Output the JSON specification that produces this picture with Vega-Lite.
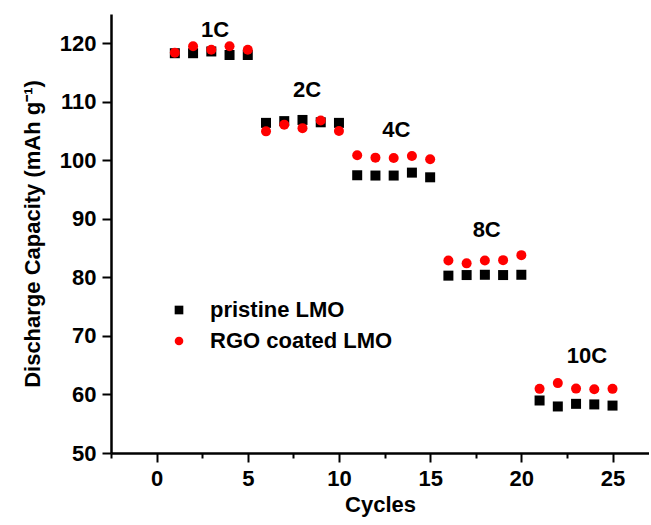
{
  "$schema": "https://vega.github.io/schema/vega-lite/v6.json",
  "width": 538,
  "height": 439,
  "autosize": {"type": "none"},
  "padding": {"left": 111, "top": 14, "right": 0, "bottom": 72},
  "background": "white",
  "config": {
    "view": {"stroke": null},
    "font": "Liberation Sans",
    "axis": {
      "domainColor": "#000000",
      "domainWidth": 2.5,
      "tickColor": "#000000",
      "tickWidth": 2,
      "labelFont": "Liberation Sans",
      "labelFontWeight": "bold",
      "labelFontSize": 22,
      "labelColor": "#000000",
      "titleFont": "Liberation Sans",
      "titleFontWeight": "bold",
      "titleFontSize": 22,
      "titleColor": "#000000",
      "grid": false
    }
  },
  "datasets": {
    "points": [
      {"cycle": 1, "capacity": 118.3, "series": "pristine LMO"},
      {"cycle": 2, "capacity": 118.3, "series": "pristine LMO"},
      {"cycle": 3, "capacity": 118.6, "series": "pristine LMO"},
      {"cycle": 4, "capacity": 118.0, "series": "pristine LMO"},
      {"cycle": 5, "capacity": 118.0, "series": "pristine LMO"},
      {"cycle": 6, "capacity": 106.4, "series": "pristine LMO"},
      {"cycle": 7, "capacity": 106.7, "series": "pristine LMO"},
      {"cycle": 8, "capacity": 106.9, "series": "pristine LMO"},
      {"cycle": 9, "capacity": 106.5, "series": "pristine LMO"},
      {"cycle": 10, "capacity": 106.4, "series": "pristine LMO"},
      {"cycle": 11, "capacity": 97.45, "series": "pristine LMO"},
      {"cycle": 12, "capacity": 97.4, "series": "pristine LMO"},
      {"cycle": 13, "capacity": 97.4, "series": "pristine LMO"},
      {"cycle": 14, "capacity": 97.9, "series": "pristine LMO"},
      {"cycle": 15, "capacity": 97.1, "series": "pristine LMO"},
      {"cycle": 16, "capacity": 80.3, "series": "pristine LMO"},
      {"cycle": 17, "capacity": 80.4, "series": "pristine LMO"},
      {"cycle": 18, "capacity": 80.45, "series": "pristine LMO"},
      {"cycle": 19, "capacity": 80.4, "series": "pristine LMO"},
      {"cycle": 20, "capacity": 80.45, "series": "pristine LMO"},
      {"cycle": 21, "capacity": 58.97, "series": "pristine LMO"},
      {"cycle": 22, "capacity": 57.95, "series": "pristine LMO"},
      {"cycle": 23, "capacity": 58.4, "series": "pristine LMO"},
      {"cycle": 24, "capacity": 58.3, "series": "pristine LMO"},
      {"cycle": 25, "capacity": 58.1, "series": "pristine LMO"},
      {"cycle": 1, "capacity": 118.4, "series": "RGO coated LMO"},
      {"cycle": 2, "capacity": 119.5, "series": "RGO coated LMO"},
      {"cycle": 3, "capacity": 118.9, "series": "RGO coated LMO"},
      {"cycle": 4, "capacity": 119.5, "series": "RGO coated LMO"},
      {"cycle": 5, "capacity": 118.9, "series": "RGO coated LMO"},
      {"cycle": 6, "capacity": 104.95, "series": "RGO coated LMO"},
      {"cycle": 7, "capacity": 106.1, "series": "RGO coated LMO"},
      {"cycle": 8, "capacity": 105.5, "series": "RGO coated LMO"},
      {"cycle": 9, "capacity": 106.8, "series": "RGO coated LMO"},
      {"cycle": 10, "capacity": 105.0, "series": "RGO coated LMO"},
      {"cycle": 11, "capacity": 100.86, "series": "RGO coated LMO"},
      {"cycle": 12, "capacity": 100.46, "series": "RGO coated LMO"},
      {"cycle": 13, "capacity": 100.4, "series": "RGO coated LMO"},
      {"cycle": 14, "capacity": 100.74, "series": "RGO coated LMO"},
      {"cycle": 15, "capacity": 100.2, "series": "RGO coated LMO"},
      {"cycle": 16, "capacity": 82.9, "series": "RGO coated LMO"},
      {"cycle": 17, "capacity": 82.4, "series": "RGO coated LMO"},
      {"cycle": 18, "capacity": 82.9, "series": "RGO coated LMO"},
      {"cycle": 19, "capacity": 82.95, "series": "RGO coated LMO"},
      {"cycle": 20, "capacity": 83.8, "series": "RGO coated LMO"},
      {"cycle": 21, "capacity": 60.96, "series": "RGO coated LMO"},
      {"cycle": 22, "capacity": 61.94, "series": "RGO coated LMO"},
      {"cycle": 23, "capacity": 61.0, "series": "RGO coated LMO"},
      {"cycle": 24, "capacity": 60.9, "series": "RGO coated LMO"},
      {"cycle": 25, "capacity": 60.96, "series": "RGO coated LMO"}
    ],
    "rates": [
      {"cycle": 3.2, "capacity": 122.2, "label": "1C"},
      {"cycle": 8.25, "capacity": 112.06, "label": "2C"},
      {"cycle": 13.15, "capacity": 105.1, "label": "4C"},
      {"cycle": 18.1, "capacity": 88.1, "label": "8C"},
      {"cycle": 23.6, "capacity": 66.6, "label": "10C"}
    ]
  },
  "layer": [
    {
      "data": {"name": "points"},
      "mark": {"type": "point", "filled": true, "opacity": 1, "size": 100},
      "encoding": {
        "x": {
          "field": "cycle",
          "type": "quantitative",
          "scale": {"domain": [-2.5, 27], "nice": false, "zero": false},
          "axis": {
            "title": "Cycles",
            "values": [-2.5, 0, 2.5, 5, 7.5, 10, 12.5, 15, 17.5, 20, 22.5, 25],
            "labelExpr": "datum.value % 5 === 0 ? datum.label : ''",
            "tickSize": {"condition": {"test": "datum.value % 5 !== 0", "value": 5}, "value": 9},
            "labelPadding": 6,
            "titlePadding": 5
          }
        },
        "y": {
          "field": "capacity",
          "type": "quantitative",
          "scale": {"domain": [50, 125], "nice": false, "zero": false},
          "axis": {
            "title": "Discharge Capacity (mAh g⁻¹)",
            "values": [50, 55, 60, 65, 70, 75, 80, 85, 90, 95, 100, 105, 110, 115, 120],
            "labelExpr": "datum.value % 10 === 0 ? datum.label : ''",
            "tickSize": {"condition": {"test": "datum.value % 10 !== 0", "value": 5}, "value": 9},
            "labelPadding": 6,
            "titlePadding": 15
          }
        },
        "shape": {
          "field": "series",
          "type": "nominal",
          "scale": {"domain": ["pristine LMO", "RGO coated LMO"], "range": ["square", "circle"]},
          "legend": {
            "title": null,
            "orient": "none",
            "legendX": 57,
            "legendY": 285,
            "labelFont": "Liberation Sans",
            "labelFontWeight": "bold",
            "labelFontSize": 22,
            "labelColor": "#000000",
            "labelLimit": 0,
            "labelOffset": 20,
            "symbolSize": 75,
            "rowPadding": 9,
            "symbolStrokeWidth": 0
          }
        },
        "color": {
          "field": "series",
          "type": "nominal",
          "scale": {"domain": ["pristine LMO", "RGO coated LMO"], "range": ["#000000", "#ff0000"]},
          "legend": {
            "title": null,
            "orient": "none",
            "legendX": 57,
            "legendY": 285,
            "labelFont": "Liberation Sans",
            "labelFontWeight": "bold",
            "labelFontSize": 22,
            "labelColor": "#000000",
            "labelLimit": 0,
            "labelOffset": 20,
            "symbolSize": 75,
            "rowPadding": 9,
            "symbolStrokeWidth": 0
          }
        }
      }
    },
    {
      "data": {"name": "rates"},
      "mark": {"type": "text", "font": "Liberation Sans", "fontWeight": "bold", "fontSize": 22, "color": "#000000", "align": "center", "baseline": "middle"},
      "encoding": {
        "x": {"field": "cycle", "type": "quantitative"},
        "y": {"field": "capacity", "type": "quantitative"},
        "text": {"field": "label"}
      }
    },
    {
      "mark": {"type": "rule", "color": "#000000", "strokeWidth": 2.5},
      "encoding": {"y": {"datum": 125}}
    }
  ]
}
